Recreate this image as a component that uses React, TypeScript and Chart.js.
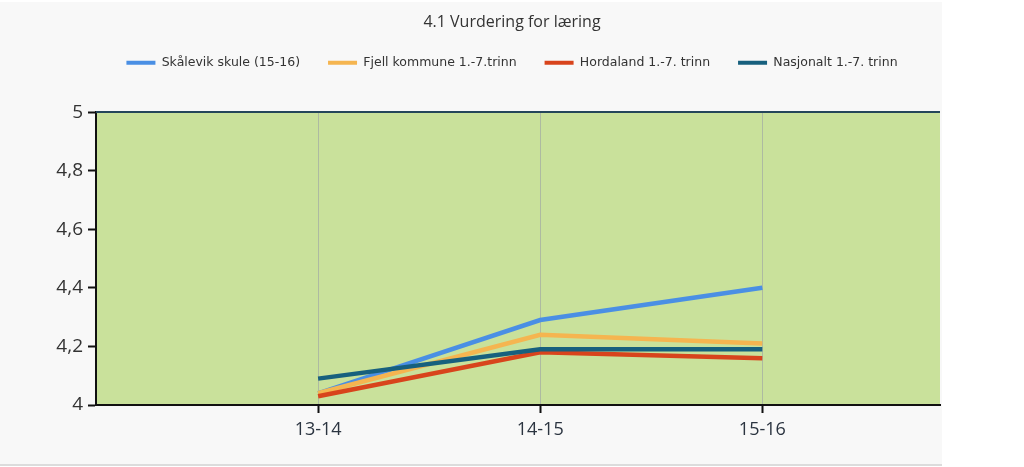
import React, { useEffect, useRef } from "react";
import { Chart, registerables } from "chart.js";

Chart.register(...registerables);

const TITLE = "4.1 Vurdering for læring";
const categories = ["13-14", "14-15", "15-16"];
const seriesNames = [
  "Skålevik skule (15-16)",
  "Fjell kommune 1.-7.trinn",
  "Hordaland 1.-7. trinn",
  "Nasjonalt 1.-7. trinn",
];
const skalevik = [4.04, 4.29, 4.40];
const fjell = [4.04, 4.24, 4.21];
const hordaland = [4.03, 4.18, 4.16];
const nasjonalt = [4.09, 4.19, 4.19];
const yTicks = [4, 4.2, 4.4, 4.6, 4.8, 5];

const seriesValues = [skalevik, fjell, hordaland, nasjonalt];
const seriesColors = ["#4a8fe4", "#f5b550", "#d8441c", "#17607e"];
const seriesOrder = [4, 3, 2, 1];

const PLOT_BG = "#c9e19b";
const PANEL_BG = "#f8f8f8";

const bgPlugin = {
  id: "bgPlugin",
  beforeDraw(chart: any) {
    const { ctx, chartArea } = chart;
    ctx.save();
    ctx.fillStyle = "#ffffff";
    ctx.fillRect(0, 0, chart.width, chart.height);
    ctx.fillStyle = PANEL_BG;
    ctx.fillRect(0, 2, chartArea.right + 2, chart.height - 4);
    ctx.fillStyle = "#dcdcdc";
    ctx.fillRect(0, chart.height - 3, chartArea.right + 2, 2);
    ctx.fillStyle = PLOT_BG;
    ctx.fillRect(chartArea.left, chartArea.top, chartArea.right - chartArea.left, chartArea.bottom - chartArea.top);
    ctx.restore();
  },
  afterDatasetsDraw(chart: any) {
    const { ctx, chartArea } = chart;
    ctx.save();
    ctx.strokeStyle = "#24465a";
    ctx.lineWidth = 2;
    ctx.beginPath();
    ctx.moveTo(chartArea.left, chartArea.top);
    ctx.lineTo(chartArea.right, chartArea.top);
    ctx.stroke();
    ctx.restore();
  },
};

export default function App() {
  const ref = useRef<HTMLCanvasElement>(null);
  useEffect(() => {
    if (!ref.current) return;
    const chart = new Chart(ref.current, {
      type: "line",
      data: {
        datasets: seriesNames.map((name, i) => ({
          label: name,
          data: seriesValues[i].map((v, j) => ({ x: j + 1, y: v })),
          borderColor: seriesColors[i],
          backgroundColor: seriesColors[i],
          borderWidth: 4.5,
          pointRadius: 0,
          tension: 0,
          order: seriesOrder[i],
        })),
      },
      options: {
        animation: false,
        responsive: false,
        maintainAspectRatio: false,
        layout: { padding: { left: 0, right: 0, top: 0, bottom: 0 } },
        plugins: {
          tooltip: { enabled: false },
          title: {
            display: true,
            text: TITLE,
            color: "#333333",
            font: { family: "'Open Sans'", size: 16, weight: "normal" },
            padding: { top: 12.4, bottom: -3 },
          },
          legend: {
            display: true,
            labels: {
              color: "#333333",
              font: { family: "'DejaVu Sans'", size: 12.5 },
              boxWidth: 29,
              boxHeight: 4,
              padding: 28,
              sort: (a: any, b: any) => a.datasetIndex - b.datasetIndex,
              generateLabels: (chart: any) =>
                Chart.defaults.plugins.legend.labels
                  .generateLabels(chart)
                  .map((l: any) => ({ ...l, lineWidth: 0 })),
            },
          },
        },
        scales: {
          x: {
            type: "linear",
            min: 0,
            max: 3.8,
            afterBuildTicks: (axis: any) => {
              axis.ticks = categories.map((_, i) => ({ value: i + 1 }));
            },
            afterFit: (axis: any) => {
              axis.height = 62;
            },
            ticks: {
              callback: (v: any) => categories[Number(v) - 1] ?? "",
              color: "#2b3440",
              font: { family: "'Open Sans'", size: 18 },
              padding: 6,
              maxRotation: 0,
              autoSkip: false,
            },
            grid: {
              display: true,
              drawOnChartArea: true,
              color: "rgba(150,155,165,0.55)",
              lineWidth: 1,
              tickColor: "#111111",
              tickLength: 8,
              tickWidth: 2,
            },
            border: { display: true, color: "#111111", width: 2 },
          },
          y: {
            type: "linear",
            min: 4,
            max: 5,
            afterBuildTicks: (axis: any) => {
              axis.ticks = yTicks.map((v) => ({ value: v }));
            },
            afterFit: (axis: any) => {
              axis.width = 96;
            },
            ticks: {
              callback: (v: any) => String(Number(v).toFixed(1).replace(/\.0$/, "")).replace(".", ","),
              color: "#333333",
              font: { family: "'Open Sans'", size: 19 },
              padding: 5,
            },
            grid: {
              display: true,
              drawOnChartArea: false,
              tickColor: "#111111",
              tickLength: 8,
              tickWidth: 2,
            },
            border: { display: true, color: "#111111", width: 2 },
          },
          topSpacer: {
            type: "linear",
            position: "top",
            axis: "x",
            display: true,
            ticks: { display: false },
            grid: { display: false },
            border: { display: false },
            afterFit: (axis: any) => {
              axis.height = 33;
            },
          },
          rightSpacer: {
            type: "linear",
            position: "right",
            axis: "y",
            display: true,
            ticks: { display: false },
            grid: { display: false },
            border: { display: false },
            afterFit: (axis: any) => {
              axis.width = 84;
            },
          },
        } as any,
      },
      plugins: [bgPlugin],
    } as any);
    return () => chart.destroy();
  }, []);
  return (
    <div style={{ position: "fixed", left: 0, top: 0, width: 1024, height: 467 }}>
      <canvas ref={ref} width={1024} height={467} style={{ width: 1024, height: 467, display: "block" }} />
    </div>
  );
}
